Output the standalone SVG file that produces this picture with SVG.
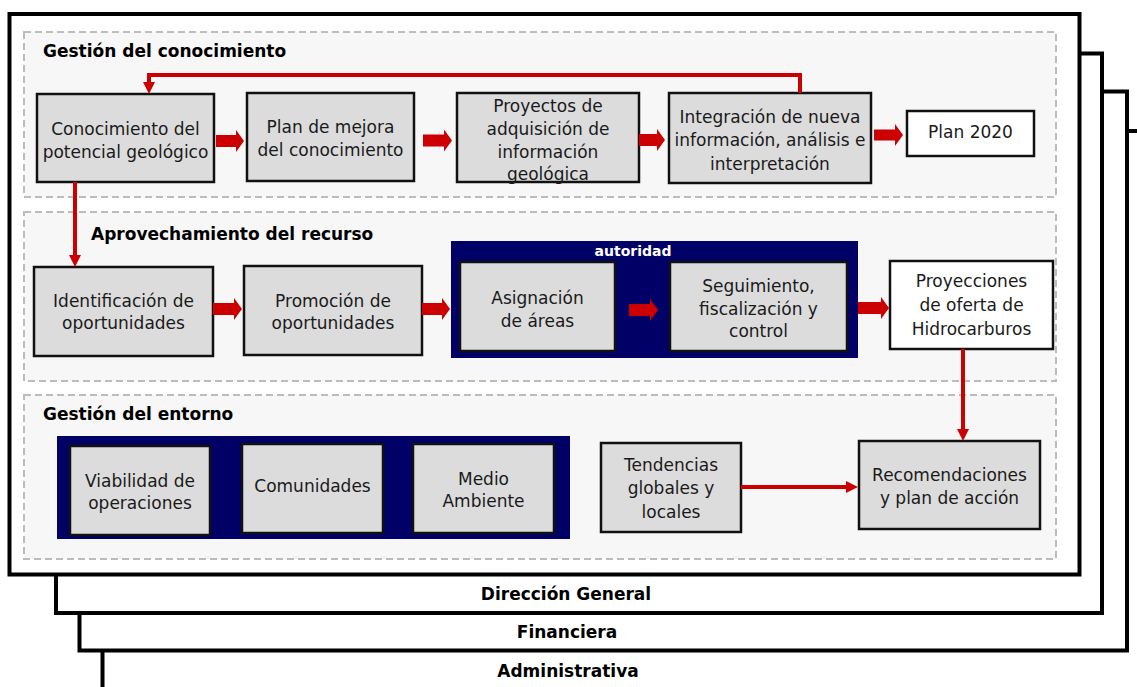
<svg xmlns="http://www.w3.org/2000/svg" width="1137" height="687" viewBox="0 0 1137 687">
<style>
.frame{fill:#fff;stroke:#000;stroke-width:4}
.zone{fill:#f7f7f7;stroke:#bcbcbc;stroke-width:2;stroke-dasharray:7 4}
.navy{fill:#000066}
.box{fill:#dcdcdc;stroke:#111;stroke-width:2.5}
.wbox{fill:#fff;stroke:#111;stroke-width:2.5}
text{font-family:"DejaVu Sans",Verdana,sans-serif;font-size:17px;fill:#1a1a1a}
.c{text-anchor:middle}
.t{font-weight:bold;fill:#000}
.w{font-weight:bold;fill:#fff;font-size:14px}
.blk{fill:#cc0000}
.ln{fill:none;stroke:#cc0000;stroke-width:4}
</style>
<defs>
<marker id="ah" viewBox="0 0 12 12" markerWidth="12" markerHeight="12" refX="2" refY="6" orient="auto" markerUnits="userSpaceOnUse">
<path d="M0,0 L12,6 L0,12 z" fill="#cc0000"/>
</marker>
<path id="barrow" d="M0,-6 H-8 V-12 L0,0 Z"/>
</defs>

<g id="frames">
<rect class="frame" x="102.5" y="131" width="1100" height="600"/>
<text class="t c" x="568" y="677">Administrativa</text>
<rect class="frame" x="79.5" y="91.5" width="1047.5" height="559"/>
<text class="t c" x="567" y="638">Financiera</text>
<rect class="frame" x="56" y="53.5" width="1046" height="559.5"/>
<text class="t c" x="566" y="600">Dirección General</text>
<rect class="frame" x="9.5" y="14" width="1070" height="560.5"/>
</g>

<g id="zones">
<rect class="zone" x="24" y="32" width="1032" height="165"/>
<text class="t" x="43" y="57">Gestión del conocimiento</text>
<rect class="zone" x="24" y="212" width="1032" height="169"/>
<text class="t" x="91" y="240">Aprovechamiento del recurso</text>
<rect class="zone" x="24" y="395" width="1032" height="164"/>
<text class="t" x="43" y="420">Gestión del entorno</text>
</g>

<g id="autoridad">
<rect class="navy" x="451" y="241" width="407" height="117"/>
<text class="w c" x="633" y="256">autoridad</text>
</g>
<g id="entorno-navy">
<rect class="navy" x="57" y="436" width="513" height="103"/>
</g>

<g id="n1"><rect class="box" x="37" y="94" width="177" height="88"/>
<text class="c" x="125.5" y="135">Conocimiento del</text><text class="c" x="125.5" y="158">potencial geológico</text></g>
<g id="n2"><rect class="box" x="247" y="93" width="167" height="88"/>
<text class="c" x="330.5" y="133">Plan de mejora</text><text class="c" x="330.5" y="156">del conocimiento</text></g>
<g id="n3"><rect class="box" x="457" y="93" width="182" height="89"/>
<text class="c" x="548" y="112">Proyectos de</text><text class="c" x="548" y="135">adquisición de</text><text class="c" x="548" y="158">información</text><text class="c" x="548" y="180">geológica</text></g>
<g id="n4"><rect class="box" x="669" y="93" width="202" height="90"/>
<text class="c" x="770" y="123">Integración de nueva</text><text class="c" x="770" y="146">información, análisis e</text><text class="c" x="770" y="170">interpretación</text></g>
<g id="n5"><rect class="wbox" x="907" y="111" width="127" height="45"/>
<text class="c" x="970.5" y="138">Plan 2020</text></g>

<g id="n6"><rect class="box" x="34" y="267" width="179" height="89"/>
<text class="c" x="123.5" y="307">Identificación de</text><text class="c" x="123.5" y="329">oportunidades</text></g>
<g id="n7"><rect class="box" x="244" y="266" width="178" height="89"/>
<text class="c" x="333" y="307">Promoción de</text><text class="c" x="333" y="329">oportunidades</text></g>
<g id="n8"><rect class="box" x="460" y="262" width="155" height="89"/>
<text class="c" x="537.5" y="304">Asignación</text><text class="c" x="537.5" y="327">de áreas</text></g>
<g id="n9"><rect class="box" x="670" y="262" width="177" height="89"/>
<text class="c" x="758.5" y="292">Seguimiento,</text><text class="c" x="758.5" y="315">fiscalización y</text><text class="c" x="758.5" y="337">control</text></g>
<g id="n10"><rect class="wbox" x="890" y="261" width="163" height="88"/>
<text class="c" x="971.5" y="287">Proyecciones</text><text class="c" x="971.5" y="311">de oferta de</text><text class="c" x="971.5" y="335">Hidrocarburos</text></g>

<g id="n11"><rect class="box" x="70" y="446" width="140" height="89"/>
<text class="c" x="140" y="487">Viabilidad de</text><text class="c" x="140" y="509">operaciones</text></g>
<g id="n12"><rect class="box" x="242" y="444" width="141" height="89"/>
<text class="c" x="312.5" y="492">Comunidades</text></g>
<g id="n13"><rect class="box" x="413" y="444" width="141" height="89"/>
<text class="c" x="483.5" y="485">Medio</text><text class="c" x="483.5" y="507">Ambiente</text></g>
<g id="n14"><rect class="box" x="601" y="443" width="140" height="89"/>
<text class="c" x="671" y="471">Tendencias</text><text class="c" x="671" y="494">globales y</text><text class="c" x="671" y="518">locales</text></g>
<g id="n15"><rect class="box" x="859" y="441" width="181" height="88"/>
<text class="c" x="949.5" y="481">Recomendaciones</text><text class="c" x="949.5" y="504">y plan de acción</text></g>

<g id="connectors">
<polyline class="ln" points="800,93 800,75 149,75 149,84" marker-end="url(#ah)"/>
<line class="ln" x1="75" y1="182" x2="75" y2="257" marker-end="url(#ah)"/>
<line class="ln" x1="963" y1="349" x2="963" y2="431" marker-end="url(#ah)"/>
<line class="ln" x1="741" y1="487" x2="848" y2="487" marker-end="url(#ah)"/>
<polygon class="blk" points="216,135 236,135 236,130 244,141 236,152 236,147 216,147"/>
<polygon class="blk" points="423,134.5 444,134.5 444,129.5 452,140.5 444,151.5 444,146.5 423,146.5"/>
<polygon class="blk" points="639,134 657,134 657,129 665,140 657,151 657,146 639,146"/>
<polygon class="blk" points="874,129.5 895,129.5 895,124 903,135 895,146 895,140.5 874,140.5"/>
<polygon class="blk" points="213,303 234,303 234,298 242,309 234,320 234,315 213,315"/>
<polygon class="blk" points="422,303 442,303 442,298 450,309 442,320 442,315 422,315"/>
<polygon class="blk" points="629,304 650,304 650,299 658,310 650,321 650,316 629,316"/>
<polygon class="blk" points="858,302 881,302 881,297 889,308 881,319 881,314 858,314"/>
</g>
</svg>
